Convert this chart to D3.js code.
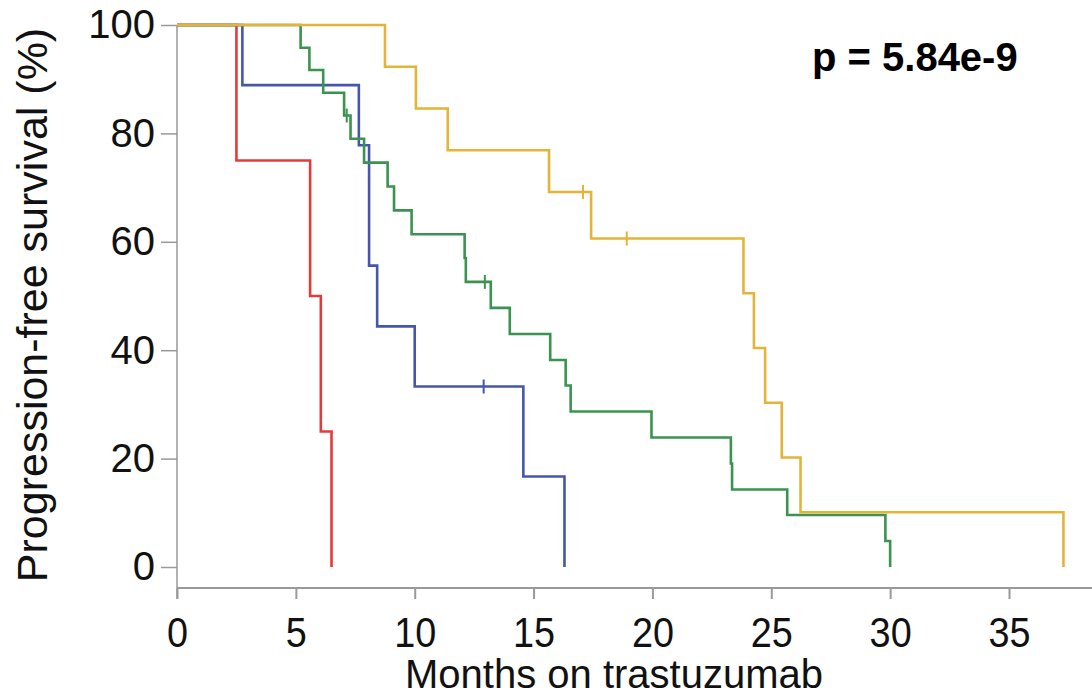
<!DOCTYPE html>
<html>
<head>
<meta charset="utf-8">
<script src="https://cdn.jsdelivr.net/npm/d3@7"></script>
<style>
  body { margin: 0; background: #fff; }
  text { font-family: "Liberation Sans", Arial, sans-serif; }
</style>
</head>
<body>
<svg id="km" width="1092" height="700"></svg>
<script>
// Kaplan-Meier steps: event time (months) and survival (%) after it
const redTimes = [2.5, 5.6, 6.05, 6.5];
const redSurv = [75, 50, 25, 0];
const redCensor = [];

const blueTimes = [2.75, 7.65, 8.08, 8.42, 10.0, 14.57, 16.3];
const blueSurv = [88.9, 77.8, 55.6, 44.4, 33.3, 16.7, 0];
const blueCensor = [[12.9, 33.3]];

const greenTimes = [5.2, 5.57, 6.15, 7.03, 7.3, 7.87, 8.86, 9.13, 9.87, 12.1, 12.15, 13.2, 14.0, 15.7, 16.35, 16.56, 19.96, 23.3, 23.35, 25.67, 29.8, 30.0];
const greenSurv = [95.8, 91.7, 87.5, 83.3, 79.0, 74.6, 70.2, 65.8, 61.4, 57.0, 52.6, 47.8, 43.0, 38.2, 33.5, 28.7, 23.9, 19.1, 14.3, 9.6, 4.8, 0];
const greenCensor = [[7.14, 83.3], [12.95, 52.6]];

const yellowTimes = [8.75, 10.05, 11.39, 15.65, 17.42, 23.83, 24.27, 24.74, 25.44, 26.23, 37.29];
const yellowSurv = [92.3, 84.6, 76.9, 69.2, 60.6, 50.5, 40.4, 30.3, 20.2, 10.1, 0];
const yellowCensor = [[17.08, 69.2], [18.92, 60.6]];

const xTicks = [0, 5, 10, 15, 20, 25, 30, 35];
const yTicks = [0, 20, 40, 60, 80, 100];
const pLabel = 'p = 5.84e-9';

const series = [
  {times: redTimes, surv: redSurv, censor: redCensor, color: '#e43b3a'},
  {times: blueTimes, surv: blueSurv, censor: blueCensor, color: '#4457ad'},
  {times: greenTimes, surv: greenSurv, censor: greenCensor, color: '#3a9450'},
  {times: yellowTimes, surv: yellowSurv, censor: yellowCensor, color: '#e3b437'}
];

const svg = d3.select('#km');
const width = +svg.attr('width');

const xScale = d3.scaleLinear().domain([0, 35]).range([177, 1009]);
const yScale = d3.scaleLinear().domain([0, 100]).range([567, 25]);
const axisY = 588;
const axisColor = '#999';

// axes
const xAxisG = svg.append('g')
    .attr('transform', `translate(0,${axisY})`)
    .call(d3.axisBottom(xScale).tickValues(xTicks).tickSize(11).tickSizeOuter(0).tickPadding(18));
xAxisG.select('.domain').remove();
xAxisG.selectAll('line').attr('stroke', axisColor).attr('stroke-width', 2);
xAxisG.selectAll('text')
    .attr('font-size', 42)
    .attr('fill', '#111')
    .attr('transform', 'scale(0.9,1)');

svg.append('line')
    .attr('x1', xScale(0)).attr('x2', width)
    .attr('y1', axisY).attr('y2', axisY)
    .attr('stroke', axisColor).attr('stroke-width', 2);

const yAxisG = svg.append('g')
    .attr('transform', `translate(${xScale(0)},0)`)
    .call(d3.axisLeft(yScale).tickValues(yTicks).tickSize(16).tickSizeOuter(0).tickPadding(6));
yAxisG.select('.domain').remove();
yAxisG.selectAll('line').attr('stroke', axisColor).attr('stroke-width', 1.5);
yAxisG.selectAll('text')
    .attr('font-size', 40)
    .attr('fill', '#111');

svg.append('line')
    .attr('x1', xScale(0)).attr('x2', xScale(0))
    .attr('y1', yScale(100)).attr('y2', axisY + 11)
    .attr('stroke', axisColor).attr('stroke-width', 1.5);

// axis titles
svg.append('text')
    .attr('x', 614)
    .attr('y', 688)
    .attr('text-anchor', 'middle')
    .attr('font-size', 40)
    .attr('fill', '#111')
    .text('Months on trastuzumab');

svg.append('text')
    .attr('transform', 'translate(47,305) rotate(-90)')
    .attr('text-anchor', 'middle')
    .attr('font-size', 43)
    .attr('fill', '#111')
    .text('Progression-free survival (%)');

// survival curves
const stepLine = d3.line()
    .x(d => xScale(d[0]))
    .y(d => yScale(d[1]))
    .curve(d3.curveStepAfter);

series.forEach(s => {
  const pts = [[0, 100]].concat(s.times.map((t, i) => [t, s.surv[i]]));
  svg.append('path')
      .attr('d', stepLine(pts))
      .attr('fill', 'none')
      .attr('stroke', s.color)
      .attr('stroke-width', 2.6);
  svg.selectAll(null)
      .data(s.censor)
      .join('line')
      .attr('x1', d => xScale(d[0])).attr('x2', d => xScale(d[0]))
      .attr('y1', d => yScale(d[1]) - 7).attr('y2', d => yScale(d[1]) + 7)
      .attr('stroke', s.color)
      .attr('stroke-width', 2);
});

svg.append('text')
    .attr('x', 812)
    .attr('y', 71)
    .attr('font-size', 40)
    .attr('font-weight', 'bold')
    .attr('fill', '#000')
    .text(pLabel);
</script>
</body>
</html>
